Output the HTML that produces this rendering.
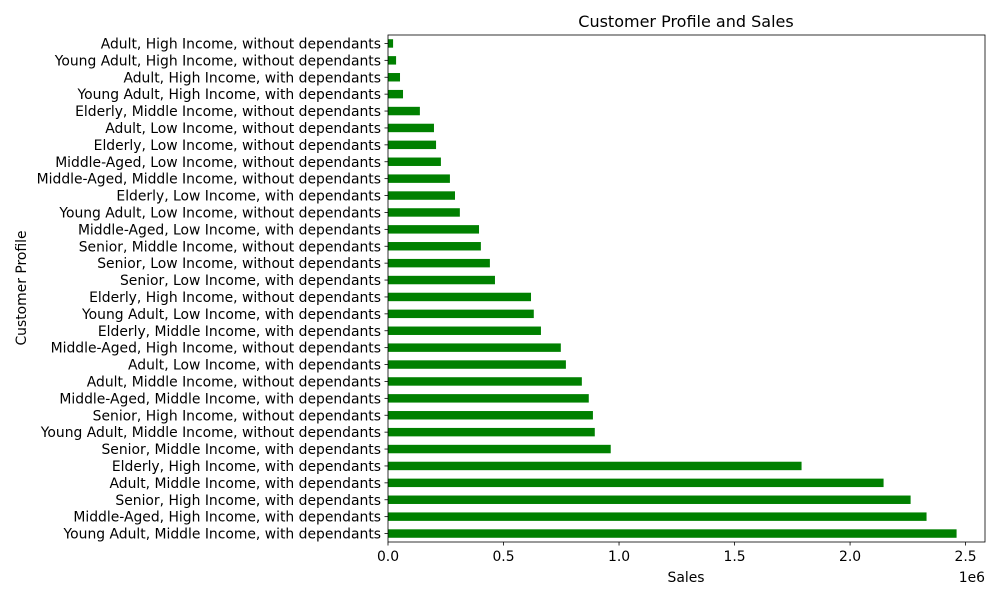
<!DOCTYPE html>
<html><head><meta charset="utf-8"><style>
body{margin:0;background:#fff;font-family:"Liberation Sans","DejaVu Sans",sans-serif;}
svg text{font-family:"DejaVu Sans","Liberation Sans",sans-serif;fill:#000;}
</style></head><body>
<svg id="chart" width="1000" height="600" xmlns="http://www.w3.org/2000/svg">
<rect width="1000" height="600" fill="#fff"/>
<g id="bars"></g>
<g id="axes"></g>
<text x="686" y="27" font-size="16" text-anchor="middle">Customer Profile and Sales</text>
<text x="686" y="582" font-size="13.9" text-anchor="middle">Sales</text>
<text x="0" y="0" font-size="13.9" text-anchor="middle" transform="translate(26,288) rotate(-90)">Customer Profile</text>
<text x="985" y="582" font-size="13.9" text-anchor="end">1e6</text>
</svg>
<script>
const categories=["Adult, High Income, without dependants","Young Adult, High Income, without dependants","Adult, High Income, with dependants","Young Adult, High Income, with dependants","Elderly, Middle Income, without dependants","Adult, Low Income, without dependants","Elderly, Low Income, without dependants","Middle-Aged, Low Income, without dependants","Middle-Aged, Middle Income, without dependants","Elderly, Low Income, with dependants","Young Adult, Low Income, without dependants","Middle-Aged, Low Income, with dependants","Senior, Middle Income, without dependants","Senior, Low Income, without dependants","Senior, Low Income, with dependants","Elderly, High Income, without dependants","Young Adult, Low Income, with dependants","Elderly, Middle Income, with dependants","Middle-Aged, High Income, without dependants","Adult, Low Income, with dependants","Adult, Middle Income, without dependants","Middle-Aged, Middle Income, with dependants","Senior, High Income, without dependants","Young Adult, Middle Income, without dependants","Senior, Middle Income, with dependants","Elderly, High Income, with dependants","Adult, Middle Income, with dependants","Senior, High Income, with dependants","Middle-Aged, High Income, with dependants","Young Adult, Middle Income, with dependants"];
const sales=[22000,35000,52000,65000,138000,199000,208000,229000,268000,290000,311000,394000,402000,441000,463000,619000,631000,662000,748000,770000,839000,869000,887000,895000,964000,1790000,2145000,2262000,2331000,2461000];
const xTicks=[0,0.5,1.0,1.5,2.0,2.5];
const xTickLabels=["0.0","0.5","1.0","1.5","2.0","2.5"];
const L=388,R=985,T=35,B=542,XMAX=2.584e6;
const xs=v=>L+v/XMAX*(R-L);
const n=categories.length,step=(B-T)/n;
const ys=i=>T+(i+0.5)*step;
const NS="http://www.w3.org/2000/svg";
const bars=document.getElementById('bars'),axes=document.getElementById('axes');
function mk(tag,attrs,parent){const e=document.createElementNS(NS,tag);for(const k in attrs)e.setAttribute(k,attrs[k]);parent.appendChild(e);return e;}
categories.forEach((c,i)=>{
  const r=mk('rect',{x:L,y:ys(i)-step*0.25,width:xs(sales[i])-L,height:step*0.5,fill:'#008000'},bars);
  
  
  mk('line',{x1:L-3.5,x2:L,y1:ys(i),y2:ys(i),stroke:'#000','stroke-width':0.8},axes);
  const t=mk('text',{x:L-7,y:ys(i)+5,'font-size':13.9,'text-anchor':'end'},axes);
  t.textContent=c;
  
  
});
xTicks.forEach((v,i)=>{
  const x=xs(v*1e6);
  mk('line',{x1:x,x2:x,y1:B,y2:B+3.5,stroke:'#000','stroke-width':0.8},axes);
  const t=mk('text',{x:x,y:B+19,'font-size':13.9,'text-anchor':'middle'},axes);
  t.textContent=xTickLabels[i];
  
  
});
const f=mk('rect',{x:L,y:T,width:R-L,height:B-T,fill:'none',stroke:'#000','stroke-width':0.8},axes);


</script>
</body></html>
